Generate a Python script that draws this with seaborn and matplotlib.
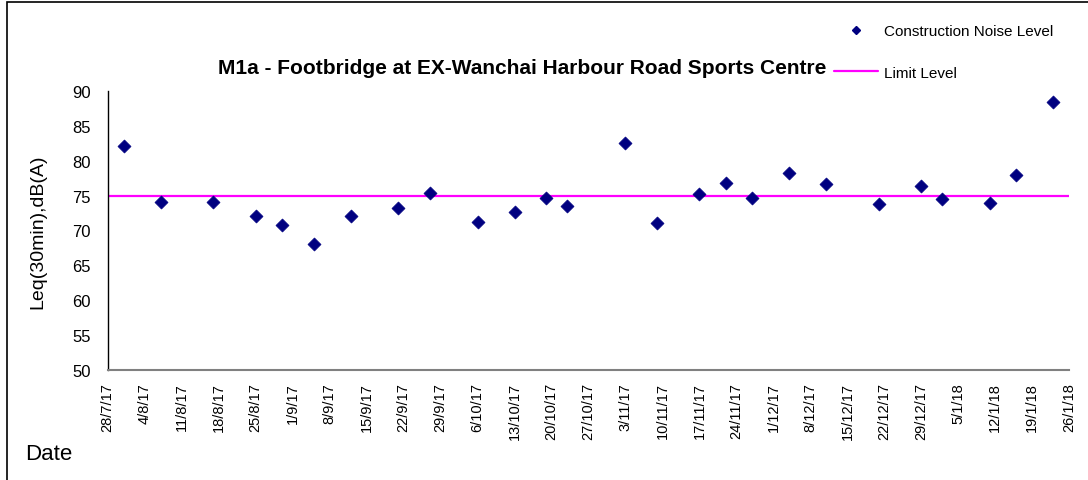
import matplotlib
matplotlib.use("Agg")
import matplotlib.pyplot as plt
import matplotlib.dates as mdates
from matplotlib.ticker import FuncFormatter
from matplotlib.lines import Line2D
from matplotlib.patches import Rectangle
import seaborn as sns
import pandas as pd

# ---- data ----
dates = ["2017-07-31", "2017-08-07", "2017-08-17", "2017-08-25", "2017-08-30",
         "2017-09-05", "2017-09-12", "2017-09-21", "2017-09-27", "2017-10-06",
         "2017-10-13", "2017-10-19", "2017-10-23", "2017-11-03", "2017-11-09",
         "2017-11-17", "2017-11-22", "2017-11-27", "2017-12-04", "2017-12-11",
         "2017-12-21", "2017-12-29", "2018-01-02", "2018-01-11", "2018-01-16",
         "2018-01-23"]
noise = [82.1, 74.1, 74.1, 72.1, 70.7, 68.1, 72.1, 73.2, 75.3, 71.2,
         72.7, 74.6, 73.5, 82.6, 71.0, 75.2, 76.8, 74.6, 78.2, 76.7,
         73.8, 76.3, 74.5, 73.9, 78.0, 88.4]
limit_dates = ["2017-07-28", "2018-01-26"]
limit_values = [75, 75]
x_start, x_end = "2017-07-28", "2018-01-26"
y_ticks = [50, 55, 60, 65, 70, 75, 80, 85, 90]

title = "M1a - Footbridge at EX-Wanchai Harbour Road Sports Centre"
series_label = "Construction Noise Level"
limit_label = "Limit Level"
y_label = "Leq(30min),dB(A)"
x_label = "Date"

df = pd.DataFrame({"date": pd.to_datetime(dates), "noise": noise})
lim = pd.DataFrame({"date": pd.to_datetime(limit_dates), "value": limit_values})

sns.set_theme(style="white")
plt.rcParams["font.family"] = ["Liberation Sans", "DejaVu Sans"]
plt.rcParams["text.color"] = "black"
plt.rcParams["axes.labelcolor"] = "black"
plt.rcParams["xtick.color"] = "black"
plt.rcParams["ytick.color"] = "black"

fig = plt.figure(figsize=(10.88, 4.81), dpi=100)
ax = fig.add_axes([107.7 / 1088, 1 - 370.7 / 481, 961.6 / 1088, 278.7 / 481])

sns.lineplot(data=lim, x="date", y="value", color="#FF00FF", linewidth=1.6, ax=ax, legend=False)
sns.scatterplot(data=df, x="date", y="noise", marker="D", s=44, color="#000080",
                edgecolor="#000080", linewidth=0.5, ax=ax, legend=False, zorder=3)

ax.set_xlim(pd.Timestamp(x_start), pd.Timestamp(x_end))
ax.set_ylim(50, 90)
ax.set_yticks(y_ticks)
ticks = pd.date_range(x_start, x_end, freq="7D")
ax.set_xticks(ticks)
ax.xaxis.set_major_formatter(FuncFormatter(
    lambda v, p: (lambda d: f"{d.day}/{d.month}/{d.strftime('%y')}")(mdates.num2date(v))))
ax.tick_params(axis="x", direction="in", length=5, width=0.8, color="#333333",
               labelsize=10.5, labelrotation=90, pad=9)
ax.tick_params(axis="y", direction="in", length=5, width=0.8, color="#333333",
               labelsize=12, pad=12)
for s in ["top", "right"]:
    ax.spines[s].set_visible(False)
ax.spines["left"].set_color("black")
ax.spines["left"].set_linewidth(1.0)
ax.spines["bottom"].set_color("#808080")
ax.spines["bottom"].set_linewidth(1.5)

ax.set_xlabel("")
ax.set_ylabel(y_label, fontsize=14)
ax.yaxis.set_label_coords(-0.064, 0.5)

fig.text(522 / 1088, 1 - 68 / 481, title, ha="center", va="center",
         fontsize=15, fontweight="bold")
fig.text(25 / 1088, 1 - 455 / 481, x_label, ha="left", va="center", fontsize=16)

handles = [Line2D([], [], marker="D", linestyle="none", color="#000080", markersize=4.5),
           Line2D([], [], color="#FF00FF", linewidth=1.6)]
fig.legend(handles, [series_label, limit_label], loc="center left",
           bbox_to_anchor=(834 / 1088, 1 - 53 / 481), frameon=False,
           fontsize=11, handlelength=2.9, handletextpad=0.35, labelspacing=1.8,
           borderpad=0, borderaxespad=0)

fig.patches.append(Rectangle((7 / 1088, -0.1), 1.2, (1 - 3 / 481) + 0.1,
                             transform=fig.transFigure, fill=False,
                             edgecolor="black", linewidth=1.2))

fig.savefig("out.png", dpi=100, facecolor="white")
